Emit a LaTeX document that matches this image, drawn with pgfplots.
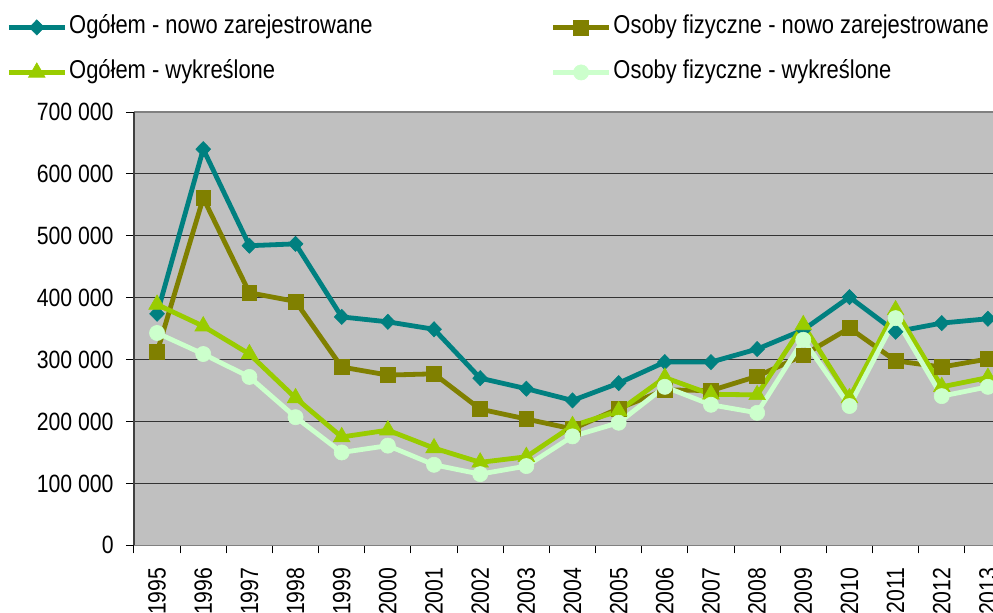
\documentclass[border=0pt]{standalone}
\usepackage{pgfplots}
\pgfplotsset{compat=1.18}
\usepackage{fontspec}
\setmainfont{Liberation Sans}[FakeStretch=0.85]
\definecolor{cteal}{HTML}{008080}
\definecolor{colive}{HTML}{808000}
\definecolor{cyg}{HTML}{99CC00}
\definecolor{clg}{HTML}{CCFFCC}
\definecolor{cbg}{HTML}{C0C0C0}
\begin{document}
\begin{tikzpicture}
\begin{axis}[
  at={(67pt,33.35pt)}, anchor=south west,
  scale only axis, width=438.5pt, height=216.65pt,
  xmin=-0.5, xmax=18.5, ymin=0, ymax=700000,
  axis background/.style={fill=cbg},
  separate axis lines,
  x axis line style={draw=gray, line width=0.6pt},
  y axis line style={draw=black!75, line width=0.9pt},
  tick align=outside,
  xtick={0,...,18},
  xticklabels={1995,1996,1997,1998,1999,2000,2001,2002,2003,2004,2005,2006,2007,2008,2009,2010,2011,2012,2013},
  major x tick style={draw=none},
  minor xtick={-0.5,0.5,...,18.5},
  minor tick length=4pt, major tick length=4pt,
  xtick pos=bottom, ytick pos=left,
  every tick/.style={black, line width=0.5pt},
  ytick={0,100000,200000,300000,400000,500000,600000},
  yticklabels={0,100 000,200 000,300 000,400 000,500 000,600 000},
  extra y ticks={700000},
  extra y tick labels={700 000},
  extra y tick style={grid=none},
  ymajorgrids,
  grid style={black!80, line width=0.5pt},
  tick label style={font=\fontsize{12.5}{14}\selectfont},
  /pgf/number format/assume math mode=true,
  xticklabel style={yshift=-7pt, rotate=90, anchor=east, inner sep=0pt},
  yticklabel style={anchor=east, inner sep=0pt, xshift=-6pt},
  scaled y ticks=false,
  legend columns=2,
  legend style={at={(-0.14595,1.2238)}, anchor=north west, draw=none, fill=none,
    inner sep=0pt, row sep=10.5pt,
    font=\fontsize{12.9}{15}\selectfont,
    nodes={inner sep=0pt, text height=9pt, text depth=3pt},
    /tikz/every odd column/.append style={column sep=1pt},
    /tikz/every even column/.append style={column sep=89pt}},
  legend cell align=left,
  legend image code/.code={\draw[mark repeat=2,mark phase=2] plot coordinates {(0pt,0pt) (14pt,0pt) (28pt,0pt)};},
  every axis plot/.append style={line width=2.4pt},
]
\addplot[cteal, mark=diamond*, mark size=3.8pt, mark options={solid, line width=0.3pt, xscale=1.3}] coordinates {
(0,374000) (1,640000) (2,484000) (3,487000) (4,369000) (5,361000) (6,349000) (7,270000) (8,253000) (9,234000)
(10,262000) (11,296000) (12,296000) (13,317000) (14,348000) (15,401000) (16,345000) (17,359000) (18,366000)};
\addlegendentry{Ogółem - nowo zarejestrowane}
\addplot[colive, mark=square*, mark size=3.7pt, mark options={solid, line width=0.3pt}] coordinates {
(0,312000) (1,561000) (2,408000) (3,394000) (4,288000) (5,275000) (6,277000) (7,220000) (8,204000) (9,188000)
(10,221000) (11,251000) (12,250000) (13,273000) (14,307000) (15,351000) (16,298000) (17,288000) (18,301000)};
\addlegendentry{Osoby fizyczne - nowo zarejestrowane}
\addplot[cyg, mark=triangle*, mark size=4.8pt, mark options={solid, line width=0.3pt}] coordinates {
(0,389000) (1,354000) (2,309000) (3,238000) (4,175000) (5,186000) (6,157000) (7,134000) (8,143000) (9,193000)
(10,217000) (11,271000) (12,244000) (13,243000) (14,356000) (15,238000) (16,380000) (17,256000) (18,271000)};
\addlegendentry{Ogółem - wykreślone}
\addplot[clg, mark=*, mark size=3.8pt, mark options={solid, line width=0.3pt}] coordinates {
(0,343000) (1,309000) (2,272000) (3,207000) (4,150000) (5,161000) (6,130000) (7,115000) (8,128000) (9,176000)
(10,198000) (11,256000) (12,227000) (13,214000) (14,332000) (15,225000) (16,367000) (17,241000) (18,256000)};
\addlegendentry{Osoby fizyczne - wykreślone}
\end{axis}
\pgfresetboundingbox
\useasboundingbox (0,0) rectangle (496.5pt,306pt);
\end{tikzpicture}
\end{document}
